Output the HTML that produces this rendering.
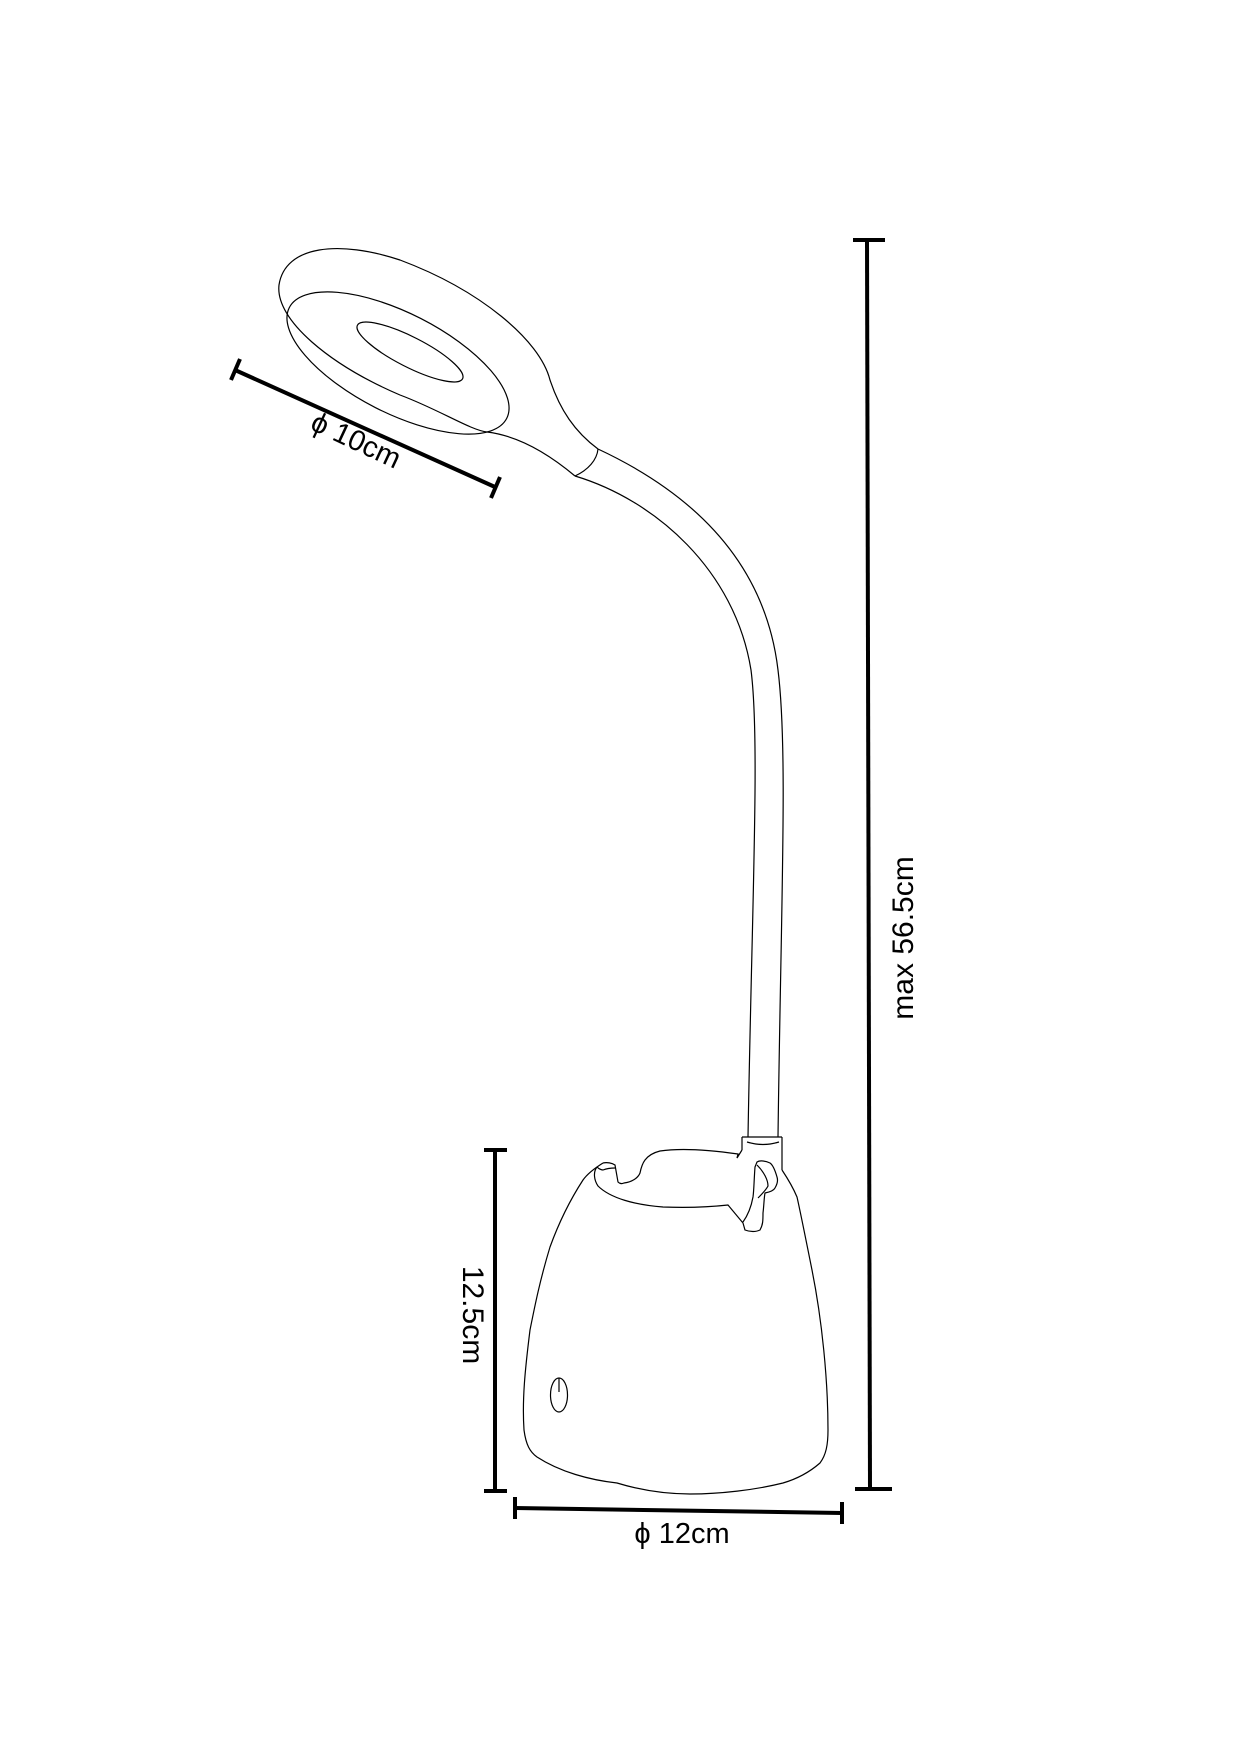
<!DOCTYPE html>
<html><head><style>
html,body{margin:0;padding:0;background:#fff;}
svg{display:block;}
</style></head><body>
<svg width="1241" height="1754" viewBox="0 0 1241 1754" xmlns="http://www.w3.org/2000/svg">
<g fill="none" stroke="#000" stroke-width="1.2">
<path d="M598,449 C575,432 560,410 550,380 C540,340 480,290 400,260 C340,240 285,245 279,285 C275,320 330,365 400,395 C440,410 470,430 487,432 C520,436 550,455 575,476"/>
<ellipse cx="398" cy="363" rx="122" ry="50" transform="rotate(27 398 363)"/>
<ellipse cx="410" cy="352" rx="59" ry="15" transform="rotate(27 410 352)"/>
<path d="M575,476 C588,470 597,460 598,449"/>
<!-- gooseneck -->
<path d="M598,449 C690,492 765,560 778,670 C788,750 781,900 778,1137"/>
<path d="M575,476 C655,500 735,570 751,670 C760,740 752,900 748,1137"/>
<!-- collar -->
<path d="M742,1137 L742,1150 M782,1137 L782,1170 M742,1137 L782,1137 M747,1142 Q763,1147 779,1142"/>
<!-- base body -->
<path d="M603,1163 C595,1168 588,1173 583,1180 C570,1200 558,1225 550,1247 C540,1280 535,1305 530,1330 C525,1370 522,1400 524,1430 C526,1445 530,1452 537,1457 C560,1472 590,1480 617,1483 C640,1490 665,1494 690,1494 C720,1494 755,1490 783,1483 C800,1478 812,1470 820,1463 C826,1455 828,1445 828,1430 C828,1380 822,1320 812,1270 C805,1235 800,1210 797,1197 C792,1185 786,1176 782,1170"/>
<path d="M603,1163 C607,1162 612,1163 615,1165 L618,1182 C620,1184 622,1184 624,1183 C632,1182 638,1178 640,1173 C641,1168 642,1164 645,1160 C648,1156 652,1153 660,1151 C680,1148 710,1150 738,1154 L737,1158 L742,1150"/>
<path d="M597,1167 C593,1172 594,1180 598,1186 C610,1198 635,1205 663,1207 C690,1208 710,1207 728,1205 L743,1223 L745,1230 C750,1232 756,1232 760,1230 C763,1225 763,1220 763,1213 C764,1205 764,1198 765,1193 C770,1192 774,1190 775,1188 C778,1183 778,1180 777,1177 C775,1170 773,1165 770,1163 C766,1161 760,1160 757,1162 L755,1167 C754,1180 754,1190 753,1197 C751,1208 748,1215 743,1222"/>
<path d="M597,1167 C600,1170 603,1170 603,1170 C608,1168 612,1168 615,1168"/>
<path d="M757,1165 C764,1172 768,1180 768,1186 C766,1190 762,1194 758,1198"/>
<ellipse cx="559" cy="1395" rx="8.5" ry="17"/>
<line x1="559" y1="1378" x2="559" y2="1392"/>
</g>
<g stroke="#000" stroke-width="4" fill="none">
<line x1="867" y1="240" x2="870" y2="1489"/>
<line x1="853" y1="240" x2="885" y2="240"/>
<line x1="855" y1="1489" x2="892" y2="1489"/>
<line x1="495" y1="1150" x2="495" y2="1491"/>
<line x1="484" y1="1150" x2="507" y2="1150"/>
<line x1="484" y1="1491" x2="507" y2="1491"/>
<line x1="515" y1="1508" x2="842" y2="1513"/>
<line x1="515" y1="1497" x2="515" y2="1519"/>
<line x1="842" y1="1502" x2="842" y2="1524"/>
<line x1="235" y1="370" x2="495" y2="487"/>
<line x1="240" y1="359" x2="231" y2="380"/>
<line x1="500" y1="477" x2="491" y2="498"/>
</g>
<g font-family="'Liberation Sans', sans-serif" fill="#000">
<text x="0" y="0" font-size="29" text-anchor="middle" transform="translate(352,449) rotate(25)">ϕ 10cm</text>
<text x="0" y="0" font-size="30" text-anchor="middle" transform="translate(913,938) rotate(-90)">max 56.5cm</text>
<text x="0" y="0" font-size="30" text-anchor="middle" transform="translate(463,1315) rotate(90)">12.5cm</text>
<text x="682" y="1543" font-size="29" text-anchor="middle">ϕ 12cm</text>
</g>
</svg>
</body></html>
